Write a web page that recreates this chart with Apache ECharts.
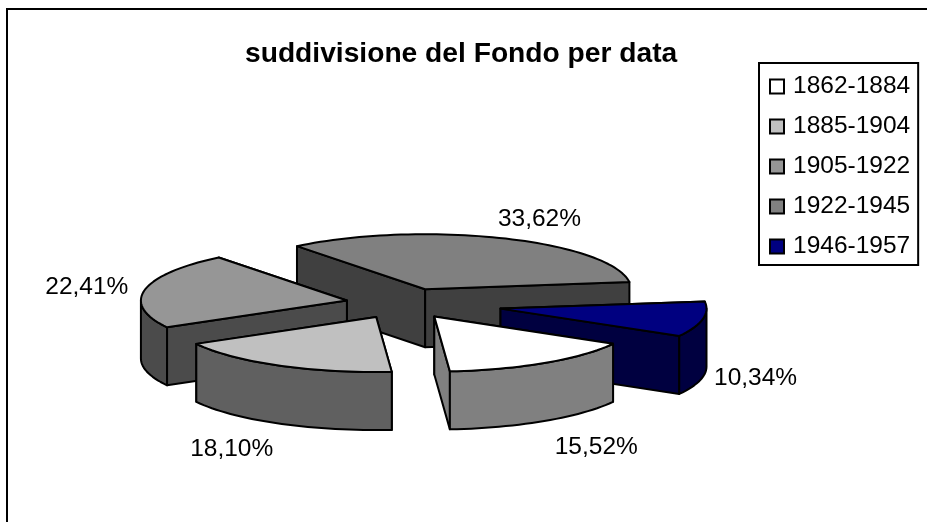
<!DOCTYPE html>
<html>
<head>
<meta charset="utf-8">
<style>
  html, body { margin: 0; padding: 0; background: #fff; }
  #main { width: 927px; height: 522px; }
</style>
<script src="https://cdn.jsdelivr.net/npm/echarts@6/dist/echarts.min.js"></script>
</head>
<body>
<div id="main"></div>
<script>
// documents per period, the printed percentages come from these
var periods = ['1862-1884', '1885-1904', '1905-1922', '1922-1945', '1946-1957'];
var counts = [18, 21, 26, 39, 12];
var topColors = ['#ffffff', '#c0c0c0', '#969696', '#808080', '#000080'];
var wallColors = ['#808080', '#606060', '#4b4b4b', '#404040', '#000040'];
var explode = [0.28, 0.28, 0.28, 0.28, 0.48];
// label shift from the rim point in the middle of each slice
var labelShift = [[52, 84], [-47, 84], [-58, -3], [37, -19], [53, 59]];

// fake 3d pie, tilted ellipse plus a wall
var pie = { cx: 403.5, cy: 303.5, rx: 206, ry: 55, depth: 58, startAngle: 119.8 };
var total = counts.reduce(function (a, b) { return a + b; }, 0);

function rad(deg) { return deg * Math.PI / 180; }

function rim(ax, ay, deg) {
    return [ax + pie.rx * Math.sin(rad(deg)), ay - pie.ry * Math.cos(rad(deg))];
}

function arcPoints(ax, ay, from, to) {
    var pts = [];
    var steps = Math.max(2, Math.ceil((to - from) / 2));
    for (var i = 0; i <= steps; i++) {
        pts.push(rim(ax, ay, from + (to - from) * i / steps));
    }
    return pts;
}

function polygon(points, fill) {
    return {
        type: 'polygon',
        shape: { points: points },
        style: { fill: fill, stroke: '#000', lineWidth: 2, lineJoin: 'round' }
    };
}

function percentText(value) {
    return (value / total * 100).toFixed(2).replace('.', ',') + '%';
}

function startAngleOf(index) {
    var sum = 0;
    for (var i = 0; i < index; i++) sum += counts[i];
    return pie.startAngle + sum / total * 360;
}

function makeRenderItem(index) {
    return function (params, api) {
        var value = api.value(0);
        var from = startAngleOf(index);
        var to = from + value / total * 360;
        var mid = (from + to) / 2;
        var ax = pie.cx + explode[index] * pie.rx * Math.sin(rad(mid));
        var ay = pie.cy - explode[index] * pie.ry * Math.cos(rad(mid));
        var d = pie.depth;
        var children = [];

        function sideWall(deg) {
            var p = rim(ax, ay, deg);
            return polygon([[ax, ay], p, [p[0], p[1] + d], [ax, ay + d]], wallColors[index]);
        }

        // flat cuts, the ones turned away from the viewer go first
        var startFaces = -Math.cos(rad(from - 90)) > 0;
        var endFaces = -Math.cos(rad(to + 90)) > 0;
        if (!startFaces) children.push(sideWall(from));
        if (!endFaces) children.push(sideWall(to));
        if (startFaces) children.push(sideWall(from));
        if (endFaces) children.push(sideWall(to));

        // round wall, only the part on the front half (90..270 and 450..630)
        [[90, 270], [450, 630]].forEach(function (front) {
            var a = Math.max(from, front[0]);
            var b = Math.min(to, front[1]);
            if (b <= a) return;
            var upper = arcPoints(ax, ay, a, b);
            var lower = upper.map(function (p) { return [p[0], p[1] + d]; }).reverse();
            children.push(polygon(upper.concat(lower), wallColors[index]));
        });

        children.push(polygon([[ax, ay]].concat(arcPoints(ax, ay, from, to)), topColors[index]));

        var edge = rim(ax, ay, mid);
        children.push({
            type: 'text',
            style: {
                text: percentText(value),
                x: edge[0] + labelShift[index][0],
                y: edge[1] + labelShift[index][1],
                fill: '#000',
                font: '24.5px "Liberation Sans"',
                align: 'center',
                verticalAlign: 'middle'
            }
        });
        return { type: 'group', children: children };
    };
}

// back slices first
var backToFront = periods.map(function (p, i) { return i; }).sort(function (a, b) {
    var ma = startAngleOf(a) + counts[a] / total * 180;
    var mb = startAngleOf(b) + counts[b] / total * 180;
    return -Math.cos(rad(ma)) - -Math.cos(rad(mb));
});

var series = periods.map(function (name, i) {
    return {
        type: 'custom',
        name: name,
        coordinateSystem: 'none',
        z: 2 + backToFront.indexOf(i),
        silent: true,
        animation: false,
        itemStyle: { color: topColors[i] },
        data: [[counts[i]]],
        renderItem: makeRenderItem(i)
    };
});

var myChart = echarts.init(document.getElementById('main'));
myChart.setOption({
    animation: false,
    title: {
        text: 'suddivisione del Fondo per data',
        left: 240,
        top: 35,
        textStyle: { color: '#000', fontFamily: 'Liberation Sans', fontWeight: 'bold', fontSize: 28.2 }
    },
    legend: {
        orient: 'vertical',
        left: 759,
        top: 63,
        padding: [11, 8, 6, 10],
        itemWidth: 14,
        itemHeight: 14,
        itemGap: 15,
        icon: 'rect',
        selectedMode: false,
        backgroundColor: '#fff',
        borderColor: '#000',
        borderWidth: 2,
        data: periods,
        itemStyle: { borderColor: '#000', borderWidth: 2 },
        textStyle: { color: '#000', fontFamily: 'Liberation Sans', fontSize: 24.5, padding: [0, 0, 0, 4] }
    },
    graphic: [{
        type: 'polyline',
        shape: { points: [[7, 522], [7, 9], [927, 9]] },
        style: { fill: null, stroke: '#000', lineWidth: 2 },
        silent: true
    }],
    series: series
});
</script>
</body>
</html>
